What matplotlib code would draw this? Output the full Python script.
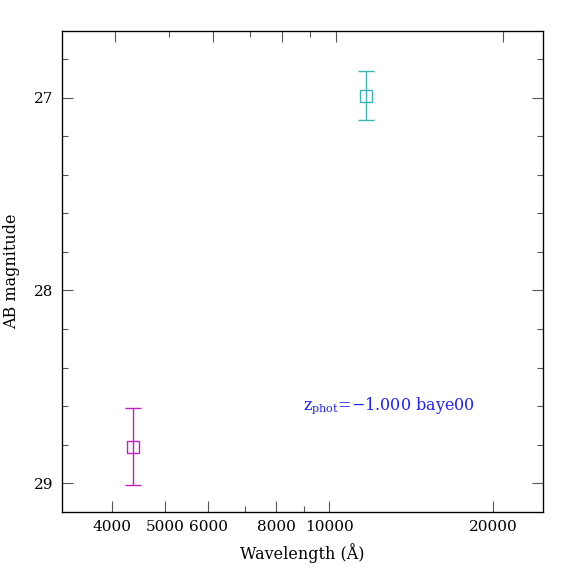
import matplotlib
matplotlib.use('Agg')
import matplotlib.pyplot as plt
from matplotlib.ticker import FixedLocator, FixedFormatter, NullFormatter

# photometry points
wavelength = [4366, 11690]
magnitude = [28.81, 26.99]
mag_err = [0.20, 0.127]
point_colors = ['#c020c0', '#3cb4b4']

# tick positions
x_major_bottom = [4000, 5000, 6000, 8000, 10000, 20000]
x_minor_bottom = [7000, 9000]
x_major_top = [4000, 6000, 8000, 10000, 20000]
x_minor_top = [5000, 7000, 9000]
y_major = [27, 28, 29]
y_minor = [26.8, 27.2, 27.4, 27.6, 27.8, 28.2, 28.4, 28.6, 28.8, 29.2]

label_text = r'z$_{\rm phot}$=$-$1.000 baye00'

plt.rcParams['font.family'] = ['DejaVu Serif']
plt.rcParams['mathtext.fontset'] = 'dejavuserif'

fig = plt.figure(figsize=(5.74, 5.74), dpi=100)
ax = fig.add_axes([62/574, 1 - 512/574, (543 - 62)/574, (512 - 31)/574])

for w, m, e, c in zip(wavelength, magnitude, mag_err, point_colors):
    ax.errorbar(w, m, yerr=e, fmt='s', mfc='none', mec=c, ecolor=c,
                ms=8, mew=1.0, elinewidth=1.0, capsize=6, capthick=1.0)

ax.set_xscale('log')
ax.set_xlim(3236, 24700)
ax.set_ylim(29.15, 26.653)

ax.xaxis.set_major_locator(FixedLocator(x_major_bottom))
ax.xaxis.set_major_formatter(FixedFormatter([str(v) for v in x_major_bottom]))
ax.xaxis.set_minor_locator(FixedLocator(x_minor_bottom))
ax.xaxis.set_minor_formatter(NullFormatter())
ax.yaxis.set_major_locator(FixedLocator(y_major))
ax.yaxis.set_minor_locator(FixedLocator(y_minor))

ax.tick_params(which='both', direction='in', right=True, top=False,
               color='#555555', labelsize=11, pad=6)
ax.tick_params(which='major', length=8, width=0.8)
ax.tick_params(which='minor', length=4, width=0.8)
for s in ax.spines.values():
    s.set_linewidth(0.9)

# top axis has its own slightly offset scale
axt = ax.twiny()
axt.set_xscale('log')
axt.set_xlim(3212, 23620)
axt.xaxis.set_major_locator(FixedLocator(x_major_top))
axt.xaxis.set_minor_locator(FixedLocator(x_minor_top))
axt.xaxis.set_major_formatter(NullFormatter())
axt.xaxis.set_minor_formatter(NullFormatter())
axt.tick_params(which='both', direction='in', color='#555555')
axt.tick_params(which='major', length=8, width=0.8)
axt.tick_params(which='minor', length=4, width=0.8)

ax.set_xlabel('Wavelength (Å)', fontsize=11.5, labelpad=6)
ax.set_ylabel('AB magnitude', fontsize=11.5, labelpad=10)

ax.text(8960, 28.596, label_text, color='#2020ff', fontsize=11.5, va='center')

fig.savefig('out.png', dpi=100)
